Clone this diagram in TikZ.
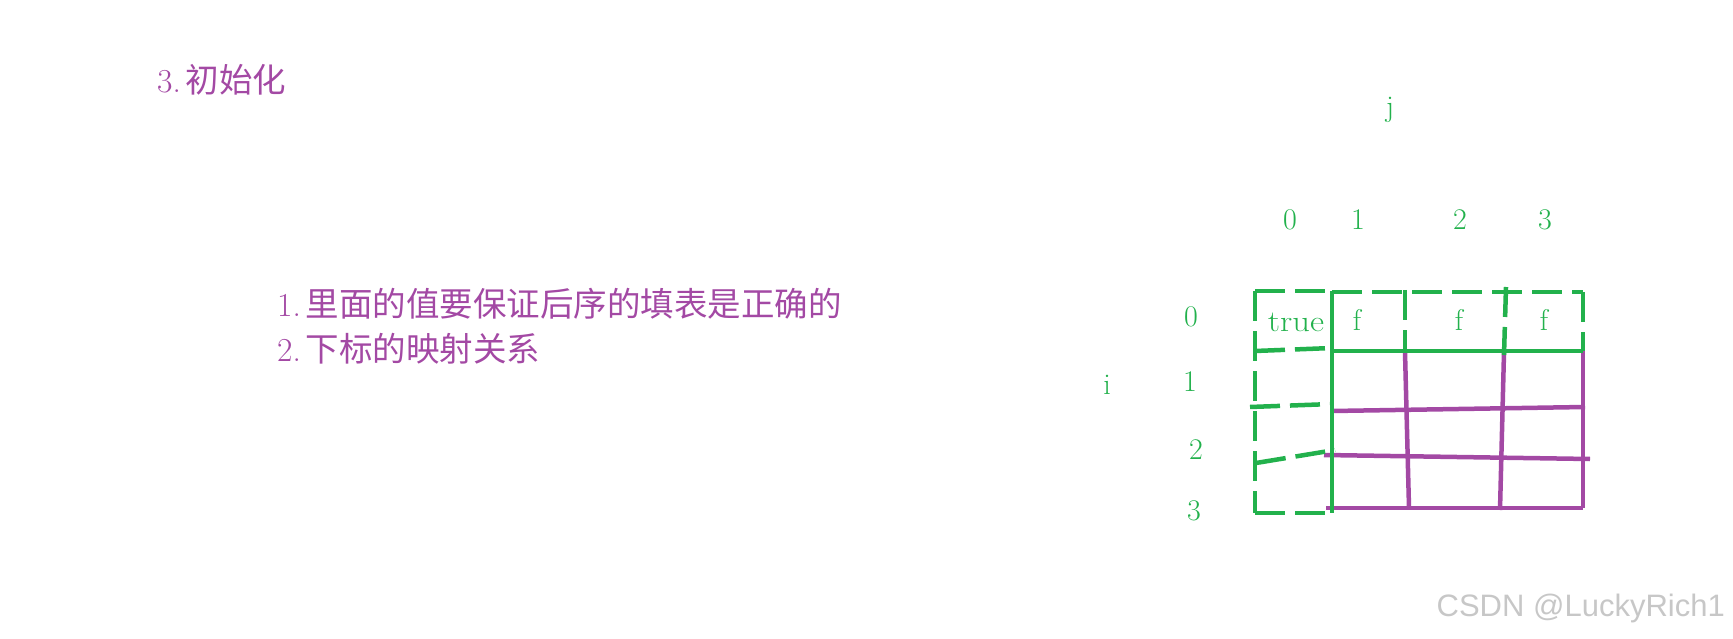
\documentclass[tikz,border=0pt]{standalone}
\usepackage{fontspec}
\newfontfamily\cjk{Noto Sans CJK SC}
\newfontfamily\wm{Liberation Sans}
\definecolor{pgreen}{HTML}{22B14C}
\definecolor{ppurple}{HTML}{A349A4}
\begin{document}
\begin{tikzpicture}[x=1pt,y=-1pt,
  gl/.style={pgreen,line width=4.5pt},
  gd/.style={pgreen,line width=4.5pt,dash pattern=on 30pt off 10pt},
  pl/.style={ppurple,line width=4.5pt},
  glab/.style={text=pgreen,font=\fontsize{30}{33}\selectfont,inner sep=0pt},
  plab/.style={text=ppurple,font=\fontsize{33.5}{36}\selectfont,inner sep=0pt,anchor=west}]
\useasboundingbox (0,0) rectangle (1733,639);
% texts
\node[plab] (title) at (157,80) {3.\hspace{5pt}{\cjk 初始化}};
\node[plab] (l1) at (277,304) {1.\hspace{5pt}{\cjk 里面的值要保证后序的填表是正确的}};
\node[plab] (l2) at (277,349) {2.\hspace{5pt}{\cjk 下标的映射关系}};
% labels
\node[glab] (j) at (1390,110) {j};
\node[glab] (c0) at (1290,220) {0};
\node[glab] (c1) at (1358,220) {1};
\node[glab] (c2) at (1460,220) {2};
\node[glab] (c3) at (1545,220) {3};
\node[glab] (i) at (1107,385) {i};
\node[glab] (r0) at (1191,317) {0};
\node[glab] (r1) at (1190,382) {1};
\node[glab] (r2) at (1196,450) {2};
\node[glab] (r3) at (1194,511) {3};
\node[glab,xscale=1.15] (t) at (1296,322) {true};
\node[glab] (f1) at (1357,320) {f};
\node[glab] (f2) at (1459,320) {f};
\node[glab] (f3) at (1544,320) {f};
% purple grid
\draw[pl] (1583,351) -- (1583,508);
\draw[pl] (1326,508) -- (1583,508);
\draw[pl] (1405,352) -- (1409,508);
\draw[pl] (1504,352) -- (1500,510);
\draw[pl] (1332,411) -- (1585,407);
\draw[pl] (1324,455) -- (1590,459);
% green left column
\draw[gd] (1255,291) -- (1255,513);
\draw[gd] (1255,291) -- (1332,291);
\draw[gd] (1255,513) -- (1332,513);
\draw[gl] (1332,291) -- (1332,513);
\draw[gd] (1255,351) -- (1332,348);
\draw[gd] (1250,407) -- (1332,404);
\draw[gd] (1256,463) -- (1335,450);
% green top row
\draw[gd] (1332,292) -- (1583,292);
\draw[gd] (1583,292) -- (1583,351);
\draw[gl] (1332,351) -- (1583,351);
\draw[gd] (1405,290) -- (1405,352);
\draw[gd] (1506,287) -- (1504,355);
% watermark
\node[text=black!22,font=\wm\fontsize{31}{34}\selectfont,anchor=east,inner sep=0pt] (wm) at (1725,608) {CSDN @LuckyRich1};
\end{tikzpicture}
\end{document}
